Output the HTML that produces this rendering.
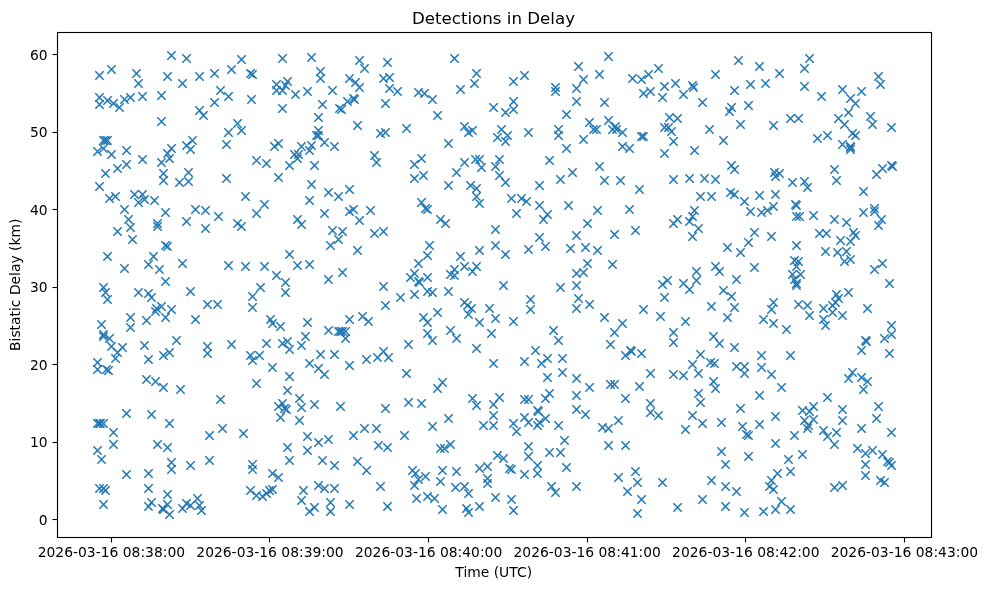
<!DOCTYPE html>
<html><head><meta charset="utf-8"><title>Detections in Delay</title>
<style>html,body{margin:0;padding:0;background:#fff;}svg{display:block;will-change:transform;}text{font-family:"DejaVu Sans","Liberation Sans",sans-serif;fill:#000;}</style></head>
<body>
<svg width="986" height="590" viewBox="0 0 986 590">
<rect width="986" height="590" fill="#fff"/>
<g stroke="#1f77b4" stroke-width="1.5" fill="none">
<path d="M167.33,51.33l8.34,8.34m-8.34,0l8.34-8.34"/>
<path d="M182.33,54.33l8.34,8.34m-8.34,0l8.34-8.34"/>
<path d="M237.33,55.33l8.34,8.34m-8.34,0l8.34-8.34"/>
<path d="M107.33,65.33l8.34,8.34m-8.34,0l8.34-8.34"/>
<path d="M95.33,71.33l8.34,8.34m-8.34,0l8.34-8.34"/>
<path d="M132.33,69.33l8.34,8.34m-8.34,0l8.34-8.34"/>
<path d="M163.33,72.33l8.34,8.34m-8.34,0l8.34-8.34"/>
<path d="M195.33,72.33l8.34,8.34m-8.34,0l8.34-8.34"/>
<path d="M210.33,69.33l8.34,8.34m-8.34,0l8.34-8.34"/>
<path d="M227.33,65.33l8.34,8.34m-8.34,0l8.34-8.34"/>
<path d="M134.33,79.33l8.34,8.34m-8.34,0l8.34-8.34"/>
<path d="M178.33,79.33l8.34,8.34m-8.34,0l8.34-8.34"/>
<path d="M216.33,86.33l8.34,8.34m-8.34,0l8.34-8.34"/>
<path d="M224.33,92.33l8.34,8.34m-8.34,0l8.34-8.34"/>
<path d="M247.33,95.33l8.34,8.34m-8.34,0l8.34-8.34"/>
<path d="M95.33,93.33l8.34,8.34m-8.34,0l8.34-8.34"/>
<path d="M95.33,100.33l8.34,8.34m-8.34,0l8.34-8.34"/>
<path d="M103.33,96.33l8.34,8.34m-8.34,0l8.34-8.34"/>
<path d="M109.33,99.33l8.34,8.34m-8.34,0l8.34-8.34"/>
<path d="M115.33,103.33l8.34,8.34m-8.34,0l8.34-8.34"/>
<path d="M120.33,95.33l8.34,8.34m-8.34,0l8.34-8.34"/>
<path d="M126.33,93.33l8.34,8.34m-8.34,0l8.34-8.34"/>
<path d="M138.33,92.33l8.34,8.34m-8.34,0l8.34-8.34"/>
<path d="M157.33,91.33l8.34,8.34m-8.34,0l8.34-8.34"/>
<path d="M210.33,98.33l8.34,8.34m-8.34,0l8.34-8.34"/>
<path d="M195.33,106.33l8.34,8.34m-8.34,0l8.34-8.34"/>
<path d="M199.33,111.33l8.34,8.34m-8.34,0l8.34-8.34"/>
<path d="M157.33,117.33l8.34,8.34m-8.34,0l8.34-8.34"/>
<path d="M233.33,119.33l8.34,8.34m-8.34,0l8.34-8.34"/>
<path d="M237.33,126.33l8.34,8.34m-8.34,0l8.34-8.34"/>
<path d="M224.33,128.33l8.34,8.34m-8.34,0l8.34-8.34"/>
<path d="M278.33,54.33l8.34,8.34m-8.34,0l8.34-8.34"/>
<path d="M307.33,53.33l8.34,8.34m-8.34,0l8.34-8.34"/>
<path d="M355.33,56.33l8.34,8.34m-8.34,0l8.34-8.34"/>
<path d="M383.33,58.33l8.34,8.34m-8.34,0l8.34-8.34"/>
<path d="M360.33,64.33l8.34,8.34m-8.34,0l8.34-8.34"/>
<path d="M316.33,67.33l8.34,8.34m-8.34,0l8.34-8.34"/>
<path d="M316.33,74.33l8.34,8.34m-8.34,0l8.34-8.34"/>
<path d="M345.33,74.33l8.34,8.34m-8.34,0l8.34-8.34"/>
<path d="M351.33,78.33l8.34,8.34m-8.34,0l8.34-8.34"/>
<path d="M355.33,83.33l8.34,8.34m-8.34,0l8.34-8.34"/>
<path d="M379.33,74.33l8.34,8.34m-8.34,0l8.34-8.34"/>
<path d="M385.33,73.33l8.34,8.34m-8.34,0l8.34-8.34"/>
<path d="M385.33,84.33l8.34,8.34m-8.34,0l8.34-8.34"/>
<path d="M393.33,87.33l8.34,8.34m-8.34,0l8.34-8.34"/>
<path d="M291.33,90.33l8.34,8.34m-8.34,0l8.34-8.34"/>
<path d="M303.33,87.33l8.34,8.34m-8.34,0l8.34-8.34"/>
<path d="M328.33,86.33l8.34,8.34m-8.34,0l8.34-8.34"/>
<path d="M278.33,104.33l8.34,8.34m-8.34,0l8.34-8.34"/>
<path d="M318.33,100.33l8.34,8.34m-8.34,0l8.34-8.34"/>
<path d="M314.33,113.33l8.34,8.34m-8.34,0l8.34-8.34"/>
<path d="M381.33,99.33l8.34,8.34m-8.34,0l8.34-8.34"/>
<path d="M353.33,121.33l8.34,8.34m-8.34,0l8.34-8.34"/>
<path d="M402.33,124.33l8.34,8.34m-8.34,0l8.34-8.34"/>
<path d="M376.33,129.33l8.34,8.34m-8.34,0l8.34-8.34"/>
<path d="M381.33,128.33l8.34,8.34m-8.34,0l8.34-8.34"/>
<path d="M314.33,126.33l8.34,8.34m-8.34,0l8.34-8.34"/>
<path d="M272.33,80.33l8.34,8.34m-8.34,0l8.34-8.34"/>
<path d="M272.33,86.33l8.34,8.34m-8.34,0l8.34-8.34"/>
<path d="M278.33,86.33l8.34,8.34m-8.34,0l8.34-8.34"/>
<path d="M283.33,77.33l8.34,8.34m-8.34,0l8.34-8.34"/>
<path d="M281.33,81.33l8.34,8.34m-8.34,0l8.34-8.34"/>
<path d="M335.33,104.33l8.34,8.34m-8.34,0l8.34-8.34"/>
<path d="M337.33,105.33l8.34,8.34m-8.34,0l8.34-8.34"/>
<path d="M343.33,97.33l8.34,8.34m-8.34,0l8.34-8.34"/>
<path d="M349.33,94.33l8.34,8.34m-8.34,0l8.34-8.34"/>
<path d="M350.33,95.33l8.34,8.34m-8.34,0l8.34-8.34"/>
<path d="M450.33,54.33l8.34,8.34m-8.34,0l8.34-8.34"/>
<path d="M472.33,69.33l8.34,8.34m-8.34,0l8.34-8.34"/>
<path d="M470.33,79.33l8.34,8.34m-8.34,0l8.34-8.34"/>
<path d="M456.33,85.33l8.34,8.34m-8.34,0l8.34-8.34"/>
<path d="M520.33,71.33l8.34,8.34m-8.34,0l8.34-8.34"/>
<path d="M509.33,77.33l8.34,8.34m-8.34,0l8.34-8.34"/>
<path d="M414.33,88.33l8.34,8.34m-8.34,0l8.34-8.34"/>
<path d="M420.33,89.33l8.34,8.34m-8.34,0l8.34-8.34"/>
<path d="M428.33,95.33l8.34,8.34m-8.34,0l8.34-8.34"/>
<path d="M433.33,111.33l8.34,8.34m-8.34,0l8.34-8.34"/>
<path d="M551.33,83.33l8.34,8.34m-8.34,0l8.34-8.34"/>
<path d="M551.33,87.33l8.34,8.34m-8.34,0l8.34-8.34"/>
<path d="M509.33,97.33l8.34,8.34m-8.34,0l8.34-8.34"/>
<path d="M509.33,105.33l8.34,8.34m-8.34,0l8.34-8.34"/>
<path d="M489.33,103.33l8.34,8.34m-8.34,0l8.34-8.34"/>
<path d="M501.33,108.33l8.34,8.34m-8.34,0l8.34-8.34"/>
<path d="M562.33,110.33l8.34,8.34m-8.34,0l8.34-8.34"/>
<path d="M460.33,122.33l8.34,8.34m-8.34,0l8.34-8.34"/>
<path d="M464.33,128.33l8.34,8.34m-8.34,0l8.34-8.34"/>
<path d="M468.33,126.33l8.34,8.34m-8.34,0l8.34-8.34"/>
<path d="M497.33,125.33l8.34,8.34m-8.34,0l8.34-8.34"/>
<path d="M493.33,133.33l8.34,8.34m-8.34,0l8.34-8.34"/>
<path d="M503.33,131.33l8.34,8.34m-8.34,0l8.34-8.34"/>
<path d="M524.33,128.33l8.34,8.34m-8.34,0l8.34-8.34"/>
<path d="M554.33,125.33l8.34,8.34m-8.34,0l8.34-8.34"/>
<path d="M554.33,131.33l8.34,8.34m-8.34,0l8.34-8.34"/>
<path d="M604.33,52.33l8.34,8.34m-8.34,0l8.34-8.34"/>
<path d="M574.33,62.33l8.34,8.34m-8.34,0l8.34-8.34"/>
<path d="M595.33,70.33l8.34,8.34m-8.34,0l8.34-8.34"/>
<path d="M579.33,75.33l8.34,8.34m-8.34,0l8.34-8.34"/>
<path d="M572.33,84.33l8.34,8.34m-8.34,0l8.34-8.34"/>
<path d="M572.33,97.33l8.34,8.34m-8.34,0l8.34-8.34"/>
<path d="M600.33,98.33l8.34,8.34m-8.34,0l8.34-8.34"/>
<path d="M654.33,64.33l8.34,8.34m-8.34,0l8.34-8.34"/>
<path d="M644.33,70.33l8.34,8.34m-8.34,0l8.34-8.34"/>
<path d="M637.33,75.33l8.34,8.34m-8.34,0l8.34-8.34"/>
<path d="M628.33,74.33l8.34,8.34m-8.34,0l8.34-8.34"/>
<path d="M660.33,82.33l8.34,8.34m-8.34,0l8.34-8.34"/>
<path d="M671.33,79.33l8.34,8.34m-8.34,0l8.34-8.34"/>
<path d="M646.33,87.33l8.34,8.34m-8.34,0l8.34-8.34"/>
<path d="M639.33,89.33l8.34,8.34m-8.34,0l8.34-8.34"/>
<path d="M658.33,93.33l8.34,8.34m-8.34,0l8.34-8.34"/>
<path d="M679.33,90.33l8.34,8.34m-8.34,0l8.34-8.34"/>
<path d="M688.33,81.33l8.34,8.34m-8.34,0l8.34-8.34"/>
<path d="M689.33,83.33l8.34,8.34m-8.34,0l8.34-8.34"/>
<path d="M711.33,70.33l8.34,8.34m-8.34,0l8.34-8.34"/>
<path d="M730.33,86.33l8.34,8.34m-8.34,0l8.34-8.34"/>
<path d="M698.33,98.33l8.34,8.34m-8.34,0l8.34-8.34"/>
<path d="M727.33,103.33l8.34,8.34m-8.34,0l8.34-8.34"/>
<path d="M725.33,107.33l8.34,8.34m-8.34,0l8.34-8.34"/>
<path d="M665.33,113.33l8.34,8.34m-8.34,0l8.34-8.34"/>
<path d="M673.33,114.33l8.34,8.34m-8.34,0l8.34-8.34"/>
<path d="M660.33,123.33l8.34,8.34m-8.34,0l8.34-8.34"/>
<path d="M664.33,123.33l8.34,8.34m-8.34,0l8.34-8.34"/>
<path d="M667.33,127.33l8.34,8.34m-8.34,0l8.34-8.34"/>
<path d="M705.33,125.33l8.34,8.34m-8.34,0l8.34-8.34"/>
<path d="M585.33,118.33l8.34,8.34m-8.34,0l8.34-8.34"/>
<path d="M604.33,116.33l8.34,8.34m-8.34,0l8.34-8.34"/>
<path d="M589.33,125.33l8.34,8.34m-8.34,0l8.34-8.34"/>
<path d="M592.33,125.33l8.34,8.34m-8.34,0l8.34-8.34"/>
<path d="M608.33,125.33l8.34,8.34m-8.34,0l8.34-8.34"/>
<path d="M611.33,122.33l8.34,8.34m-8.34,0l8.34-8.34"/>
<path d="M612.33,125.33l8.34,8.34m-8.34,0l8.34-8.34"/>
<path d="M618.33,128.33l8.34,8.34m-8.34,0l8.34-8.34"/>
<path d="M637.33,132.33l8.34,8.34m-8.34,0l8.34-8.34"/>
<path d="M639.33,132.33l8.34,8.34m-8.34,0l8.34-8.34"/>
<path d="M734.33,56.33l8.34,8.34m-8.34,0l8.34-8.34"/>
<path d="M755.33,62.33l8.34,8.34m-8.34,0l8.34-8.34"/>
<path d="M775.33,69.33l8.34,8.34m-8.34,0l8.34-8.34"/>
<path d="M805.33,54.33l8.34,8.34m-8.34,0l8.34-8.34"/>
<path d="M800.33,64.33l8.34,8.34m-8.34,0l8.34-8.34"/>
<path d="M800.33,82.33l8.34,8.34m-8.34,0l8.34-8.34"/>
<path d="M746.33,80.33l8.34,8.34m-8.34,0l8.34-8.34"/>
<path d="M761.33,79.33l8.34,8.34m-8.34,0l8.34-8.34"/>
<path d="M744.33,101.33l8.34,8.34m-8.34,0l8.34-8.34"/>
<path d="M736.33,120.33l8.34,8.34m-8.34,0l8.34-8.34"/>
<path d="M769.33,121.33l8.34,8.34m-8.34,0l8.34-8.34"/>
<path d="M786.33,114.33l8.34,8.34m-8.34,0l8.34-8.34"/>
<path d="M794.33,114.33l8.34,8.34m-8.34,0l8.34-8.34"/>
<path d="M817.33,92.33l8.34,8.34m-8.34,0l8.34-8.34"/>
<path d="M838.33,85.33l8.34,8.34m-8.34,0l8.34-8.34"/>
<path d="M857.33,87.33l8.34,8.34m-8.34,0l8.34-8.34"/>
<path d="M846.33,94.33l8.34,8.34m-8.34,0l8.34-8.34"/>
<path d="M851.33,99.33l8.34,8.34m-8.34,0l8.34-8.34"/>
<path d="M844.33,108.33l8.34,8.34m-8.34,0l8.34-8.34"/>
<path d="M834.33,114.33l8.34,8.34m-8.34,0l8.34-8.34"/>
<path d="M840.33,120.33l8.34,8.34m-8.34,0l8.34-8.34"/>
<path d="M874.33,72.33l8.34,8.34m-8.34,0l8.34-8.34"/>
<path d="M876.33,80.33l8.34,8.34m-8.34,0l8.34-8.34"/>
<path d="M866.33,112.33l8.34,8.34m-8.34,0l8.34-8.34"/>
<path d="M868.33,120.33l8.34,8.34m-8.34,0l8.34-8.34"/>
<path d="M887.33,123.33l8.34,8.34m-8.34,0l8.34-8.34"/>
<path d="M823.33,131.33l8.34,8.34m-8.34,0l8.34-8.34"/>
<path d="M813.33,134.33l8.34,8.34m-8.34,0l8.34-8.34"/>
<path d="M848.33,129.33l8.34,8.34m-8.34,0l8.34-8.34"/>
<path d="M851.33,131.33l8.34,8.34m-8.34,0l8.34-8.34"/>
<path d="M107.33,150.33l8.34,8.34m-8.34,0l8.34-8.34"/>
<path d="M122.33,146.33l8.34,8.34m-8.34,0l8.34-8.34"/>
<path d="M122.33,160.33l8.34,8.34m-8.34,0l8.34-8.34"/>
<path d="M113.33,164.33l8.34,8.34m-8.34,0l8.34-8.34"/>
<path d="M101.33,169.33l8.34,8.34m-8.34,0l8.34-8.34"/>
<path d="M95.33,182.33l8.34,8.34m-8.34,0l8.34-8.34"/>
<path d="M138.33,155.33l8.34,8.34m-8.34,0l8.34-8.34"/>
<path d="M167.33,144.33l8.34,8.34m-8.34,0l8.34-8.34"/>
<path d="M163.33,149.33l8.34,8.34m-8.34,0l8.34-8.34"/>
<path d="M165.33,154.33l8.34,8.34m-8.34,0l8.34-8.34"/>
<path d="M157.33,158.33l8.34,8.34m-8.34,0l8.34-8.34"/>
<path d="M188.33,136.33l8.34,8.34m-8.34,0l8.34-8.34"/>
<path d="M182.33,141.33l8.34,8.34m-8.34,0l8.34-8.34"/>
<path d="M186.33,145.33l8.34,8.34m-8.34,0l8.34-8.34"/>
<path d="M222.33,140.33l8.34,8.34m-8.34,0l8.34-8.34"/>
<path d="M159.33,169.33l8.34,8.34m-8.34,0l8.34-8.34"/>
<path d="M159.33,176.33l8.34,8.34m-8.34,0l8.34-8.34"/>
<path d="M184.33,168.33l8.34,8.34m-8.34,0l8.34-8.34"/>
<path d="M184.33,177.33l8.34,8.34m-8.34,0l8.34-8.34"/>
<path d="M175.33,178.33l8.34,8.34m-8.34,0l8.34-8.34"/>
<path d="M222.33,174.33l8.34,8.34m-8.34,0l8.34-8.34"/>
<path d="M241.33,192.33l8.34,8.34m-8.34,0l8.34-8.34"/>
<path d="M105.33,194.33l8.34,8.34m-8.34,0l8.34-8.34"/>
<path d="M111.33,192.33l8.34,8.34m-8.34,0l8.34-8.34"/>
<path d="M130.33,190.33l8.34,8.34m-8.34,0l8.34-8.34"/>
<path d="M138.33,190.33l8.34,8.34m-8.34,0l8.34-8.34"/>
<path d="M134.33,198.33l8.34,8.34m-8.34,0l8.34-8.34"/>
<path d="M140.33,195.33l8.34,8.34m-8.34,0l8.34-8.34"/>
<path d="M150.33,196.33l8.34,8.34m-8.34,0l8.34-8.34"/>
<path d="M120.33,205.33l8.34,8.34m-8.34,0l8.34-8.34"/>
<path d="M161.33,208.33l8.34,8.34m-8.34,0l8.34-8.34"/>
<path d="M191.33,205.33l8.34,8.34m-8.34,0l8.34-8.34"/>
<path d="M201.33,206.33l8.34,8.34m-8.34,0l8.34-8.34"/>
<path d="M214.33,212.33l8.34,8.34m-8.34,0l8.34-8.34"/>
<path d="M182.33,217.33l8.34,8.34m-8.34,0l8.34-8.34"/>
<path d="M201.33,224.33l8.34,8.34m-8.34,0l8.34-8.34"/>
<path d="M233.33,219.33l8.34,8.34m-8.34,0l8.34-8.34"/>
<path d="M237.33,222.33l8.34,8.34m-8.34,0l8.34-8.34"/>
<path d="M124.33,215.33l8.34,8.34m-8.34,0l8.34-8.34"/>
<path d="M126.33,223.33l8.34,8.34m-8.34,0l8.34-8.34"/>
<path d="M113.33,227.33l8.34,8.34m-8.34,0l8.34-8.34"/>
<path d="M153.33,219.33l8.34,8.34m-8.34,0l8.34-8.34"/>
<path d="M153.33,222.33l8.34,8.34m-8.34,0l8.34-8.34"/>
<path d="M93.33,147.33l8.34,8.34m-8.34,0l8.34-8.34"/>
<path d="M99.33,144.33l8.34,8.34m-8.34,0l8.34-8.34"/>
<path d="M99.33,136.33l8.34,8.34m-8.34,0l8.34-8.34"/>
<path d="M101.33,136.33l8.34,8.34m-8.34,0l8.34-8.34"/>
<path d="M103.33,136.33l8.34,8.34m-8.34,0l8.34-8.34"/>
<path d="M274.33,139.33l8.34,8.34m-8.34,0l8.34-8.34"/>
<path d="M270.33,142.33l8.34,8.34m-8.34,0l8.34-8.34"/>
<path d="M297.33,142.33l8.34,8.34m-8.34,0l8.34-8.34"/>
<path d="M307.33,141.33l8.34,8.34m-8.34,0l8.34-8.34"/>
<path d="M305.33,146.33l8.34,8.34m-8.34,0l8.34-8.34"/>
<path d="M320.33,138.33l8.34,8.34m-8.34,0l8.34-8.34"/>
<path d="M330.33,142.33l8.34,8.34m-8.34,0l8.34-8.34"/>
<path d="M290.33,150.33l8.34,8.34m-8.34,0l8.34-8.34"/>
<path d="M294.33,150.33l8.34,8.34m-8.34,0l8.34-8.34"/>
<path d="M293.33,154.33l8.34,8.34m-8.34,0l8.34-8.34"/>
<path d="M252.33,156.33l8.34,8.34m-8.34,0l8.34-8.34"/>
<path d="M262.33,159.33l8.34,8.34m-8.34,0l8.34-8.34"/>
<path d="M285.33,161.33l8.34,8.34m-8.34,0l8.34-8.34"/>
<path d="M310.33,161.33l8.34,8.34m-8.34,0l8.34-8.34"/>
<path d="M274.33,173.33l8.34,8.34m-8.34,0l8.34-8.34"/>
<path d="M370.33,151.33l8.34,8.34m-8.34,0l8.34-8.34"/>
<path d="M372.33,158.33l8.34,8.34m-8.34,0l8.34-8.34"/>
<path d="M307.33,180.33l8.34,8.34m-8.34,0l8.34-8.34"/>
<path d="M324.33,188.33l8.34,8.34m-8.34,0l8.34-8.34"/>
<path d="M334.33,192.33l8.34,8.34m-8.34,0l8.34-8.34"/>
<path d="M345.33,185.33l8.34,8.34m-8.34,0l8.34-8.34"/>
<path d="M305.33,196.33l8.34,8.34m-8.34,0l8.34-8.34"/>
<path d="M260.33,200.33l8.34,8.34m-8.34,0l8.34-8.34"/>
<path d="M252.33,209.33l8.34,8.34m-8.34,0l8.34-8.34"/>
<path d="M320.33,209.33l8.34,8.34m-8.34,0l8.34-8.34"/>
<path d="M345.33,207.33l8.34,8.34m-8.34,0l8.34-8.34"/>
<path d="M349.33,205.33l8.34,8.34m-8.34,0l8.34-8.34"/>
<path d="M366.33,206.33l8.34,8.34m-8.34,0l8.34-8.34"/>
<path d="M355.33,216.33l8.34,8.34m-8.34,0l8.34-8.34"/>
<path d="M293.33,215.33l8.34,8.34m-8.34,0l8.34-8.34"/>
<path d="M297.33,220.33l8.34,8.34m-8.34,0l8.34-8.34"/>
<path d="M328.33,226.33l8.34,8.34m-8.34,0l8.34-8.34"/>
<path d="M338.33,227.33l8.34,8.34m-8.34,0l8.34-8.34"/>
<path d="M370.33,229.33l8.34,8.34m-8.34,0l8.34-8.34"/>
<path d="M379.33,227.33l8.34,8.34m-8.34,0l8.34-8.34"/>
<path d="M312.33,131.33l8.34,8.34m-8.34,0l8.34-8.34"/>
<path d="M314.33,131.33l8.34,8.34m-8.34,0l8.34-8.34"/>
<path d="M444.33,139.33l8.34,8.34m-8.34,0l8.34-8.34"/>
<path d="M417.33,154.33l8.34,8.34m-8.34,0l8.34-8.34"/>
<path d="M410.33,160.33l8.34,8.34m-8.34,0l8.34-8.34"/>
<path d="M419.33,171.33l8.34,8.34m-8.34,0l8.34-8.34"/>
<path d="M410.33,174.33l8.34,8.34m-8.34,0l8.34-8.34"/>
<path d="M444.33,181.33l8.34,8.34m-8.34,0l8.34-8.34"/>
<path d="M460.33,158.33l8.34,8.34m-8.34,0l8.34-8.34"/>
<path d="M452.33,168.33l8.34,8.34m-8.34,0l8.34-8.34"/>
<path d="M471.33,155.33l8.34,8.34m-8.34,0l8.34-8.34"/>
<path d="M475.33,155.33l8.34,8.34m-8.34,0l8.34-8.34"/>
<path d="M477.33,163.33l8.34,8.34m-8.34,0l8.34-8.34"/>
<path d="M495.33,155.33l8.34,8.34m-8.34,0l8.34-8.34"/>
<path d="M491.33,162.33l8.34,8.34m-8.34,0l8.34-8.34"/>
<path d="M495.33,171.33l8.34,8.34m-8.34,0l8.34-8.34"/>
<path d="M501.33,178.33l8.34,8.34m-8.34,0l8.34-8.34"/>
<path d="M466.33,181.33l8.34,8.34m-8.34,0l8.34-8.34"/>
<path d="M472.33,184.33l8.34,8.34m-8.34,0l8.34-8.34"/>
<path d="M472.33,192.33l8.34,8.34m-8.34,0l8.34-8.34"/>
<path d="M475.33,199.33l8.34,8.34m-8.34,0l8.34-8.34"/>
<path d="M417.33,198.33l8.34,8.34m-8.34,0l8.34-8.34"/>
<path d="M421.33,204.33l8.34,8.34m-8.34,0l8.34-8.34"/>
<path d="M423.33,205.33l8.34,8.34m-8.34,0l8.34-8.34"/>
<path d="M436.33,215.33l8.34,8.34m-8.34,0l8.34-8.34"/>
<path d="M441.33,219.33l8.34,8.34m-8.34,0l8.34-8.34"/>
<path d="M491.33,225.33l8.34,8.34m-8.34,0l8.34-8.34"/>
<path d="M507.33,194.33l8.34,8.34m-8.34,0l8.34-8.34"/>
<path d="M517.33,194.33l8.34,8.34m-8.34,0l8.34-8.34"/>
<path d="M522.33,197.33l8.34,8.34m-8.34,0l8.34-8.34"/>
<path d="M512.33,209.33l8.34,8.34m-8.34,0l8.34-8.34"/>
<path d="M535.33,181.33l8.34,8.34m-8.34,0l8.34-8.34"/>
<path d="M535.33,201.33l8.34,8.34m-8.34,0l8.34-8.34"/>
<path d="M543.33,210.33l8.34,8.34m-8.34,0l8.34-8.34"/>
<path d="M539.33,215.33l8.34,8.34m-8.34,0l8.34-8.34"/>
<path d="M545.33,156.33l8.34,8.34m-8.34,0l8.34-8.34"/>
<path d="M562.33,144.33l8.34,8.34m-8.34,0l8.34-8.34"/>
<path d="M556.33,175.33l8.34,8.34m-8.34,0l8.34-8.34"/>
<path d="M568.33,168.33l8.34,8.34m-8.34,0l8.34-8.34"/>
<path d="M564.33,201.33l8.34,8.34m-8.34,0l8.34-8.34"/>
<path d="M501.33,137.33l8.34,8.34m-8.34,0l8.34-8.34"/>
<path d="M579.33,135.33l8.34,8.34m-8.34,0l8.34-8.34"/>
<path d="M618.33,142.33l8.34,8.34m-8.34,0l8.34-8.34"/>
<path d="M625.33,144.33l8.34,8.34m-8.34,0l8.34-8.34"/>
<path d="M669.33,137.33l8.34,8.34m-8.34,0l8.34-8.34"/>
<path d="M719.33,136.33l8.34,8.34m-8.34,0l8.34-8.34"/>
<path d="M660.33,149.33l8.34,8.34m-8.34,0l8.34-8.34"/>
<path d="M690.33,146.33l8.34,8.34m-8.34,0l8.34-8.34"/>
<path d="M595.33,162.33l8.34,8.34m-8.34,0l8.34-8.34"/>
<path d="M600.33,176.33l8.34,8.34m-8.34,0l8.34-8.34"/>
<path d="M616.33,176.33l8.34,8.34m-8.34,0l8.34-8.34"/>
<path d="M635.33,185.33l8.34,8.34m-8.34,0l8.34-8.34"/>
<path d="M669.33,175.33l8.34,8.34m-8.34,0l8.34-8.34"/>
<path d="M685.33,174.33l8.34,8.34m-8.34,0l8.34-8.34"/>
<path d="M700.33,174.33l8.34,8.34m-8.34,0l8.34-8.34"/>
<path d="M711.33,175.33l8.34,8.34m-8.34,0l8.34-8.34"/>
<path d="M727.33,161.33l8.34,8.34m-8.34,0l8.34-8.34"/>
<path d="M730.33,165.33l8.34,8.34m-8.34,0l8.34-8.34"/>
<path d="M696.33,192.33l8.34,8.34m-8.34,0l8.34-8.34"/>
<path d="M707.33,192.33l8.34,8.34m-8.34,0l8.34-8.34"/>
<path d="M726.33,188.33l8.34,8.34m-8.34,0l8.34-8.34"/>
<path d="M730.33,190.33l8.34,8.34m-8.34,0l8.34-8.34"/>
<path d="M593.33,206.33l8.34,8.34m-8.34,0l8.34-8.34"/>
<path d="M625.33,205.33l8.34,8.34m-8.34,0l8.34-8.34"/>
<path d="M583.33,219.33l8.34,8.34m-8.34,0l8.34-8.34"/>
<path d="M631.33,226.33l8.34,8.34m-8.34,0l8.34-8.34"/>
<path d="M690.33,206.33l8.34,8.34m-8.34,0l8.34-8.34"/>
<path d="M688.33,212.33l8.34,8.34m-8.34,0l8.34-8.34"/>
<path d="M685.33,217.33l8.34,8.34m-8.34,0l8.34-8.34"/>
<path d="M673.33,215.33l8.34,8.34m-8.34,0l8.34-8.34"/>
<path d="M669.33,219.33l8.34,8.34m-8.34,0l8.34-8.34"/>
<path d="M694.33,224.33l8.34,8.34m-8.34,0l8.34-8.34"/>
<path d="M838.33,140.33l8.34,8.34m-8.34,0l8.34-8.34"/>
<path d="M770.33,168.33l8.34,8.34m-8.34,0l8.34-8.34"/>
<path d="M775.33,169.33l8.34,8.34m-8.34,0l8.34-8.34"/>
<path d="M771.33,172.33l8.34,8.34m-8.34,0l8.34-8.34"/>
<path d="M788.33,178.33l8.34,8.34m-8.34,0l8.34-8.34"/>
<path d="M800.33,177.33l8.34,8.34m-8.34,0l8.34-8.34"/>
<path d="M803.33,183.33l8.34,8.34m-8.34,0l8.34-8.34"/>
<path d="M830.33,165.33l8.34,8.34m-8.34,0l8.34-8.34"/>
<path d="M832.33,176.33l8.34,8.34m-8.34,0l8.34-8.34"/>
<path d="M859.33,187.33l8.34,8.34m-8.34,0l8.34-8.34"/>
<path d="M872.33,170.33l8.34,8.34m-8.34,0l8.34-8.34"/>
<path d="M878.33,164.33l8.34,8.34m-8.34,0l8.34-8.34"/>
<path d="M887.33,161.33l8.34,8.34m-8.34,0l8.34-8.34"/>
<path d="M888.33,162.33l8.34,8.34m-8.34,0l8.34-8.34"/>
<path d="M740.33,197.33l8.34,8.34m-8.34,0l8.34-8.34"/>
<path d="M755.33,191.33l8.34,8.34m-8.34,0l8.34-8.34"/>
<path d="M771.33,190.33l8.34,8.34m-8.34,0l8.34-8.34"/>
<path d="M746.33,207.33l8.34,8.34m-8.34,0l8.34-8.34"/>
<path d="M757.33,208.33l8.34,8.34m-8.34,0l8.34-8.34"/>
<path d="M763.33,206.33l8.34,8.34m-8.34,0l8.34-8.34"/>
<path d="M769.33,202.33l8.34,8.34m-8.34,0l8.34-8.34"/>
<path d="M791.33,200.33l8.34,8.34m-8.34,0l8.34-8.34"/>
<path d="M792.33,201.33l8.34,8.34m-8.34,0l8.34-8.34"/>
<path d="M792.33,212.33l8.34,8.34m-8.34,0l8.34-8.34"/>
<path d="M795.33,212.33l8.34,8.34m-8.34,0l8.34-8.34"/>
<path d="M809.33,211.33l8.34,8.34m-8.34,0l8.34-8.34"/>
<path d="M830.33,215.33l8.34,8.34m-8.34,0l8.34-8.34"/>
<path d="M842.33,218.33l8.34,8.34m-8.34,0l8.34-8.34"/>
<path d="M859.33,208.33l8.34,8.34m-8.34,0l8.34-8.34"/>
<path d="M870.33,204.33l8.34,8.34m-8.34,0l8.34-8.34"/>
<path d="M870.33,207.33l8.34,8.34m-8.34,0l8.34-8.34"/>
<path d="M877.33,215.33l8.34,8.34m-8.34,0l8.34-8.34"/>
<path d="M874.33,221.33l8.34,8.34m-8.34,0l8.34-8.34"/>
<path d="M750.33,228.33l8.34,8.34m-8.34,0l8.34-8.34"/>
<path d="M849.33,228.33l8.34,8.34m-8.34,0l8.34-8.34"/>
<path d="M128.33,235.33l8.34,8.34m-8.34,0l8.34-8.34"/>
<path d="M161.33,241.33l8.34,8.34m-8.34,0l8.34-8.34"/>
<path d="M163.33,242.33l8.34,8.34m-8.34,0l8.34-8.34"/>
<path d="M103.33,252.33l8.34,8.34m-8.34,0l8.34-8.34"/>
<path d="M120.33,264.33l8.34,8.34m-8.34,0l8.34-8.34"/>
<path d="M149.33,252.33l8.34,8.34m-8.34,0l8.34-8.34"/>
<path d="M144.33,260.33l8.34,8.34m-8.34,0l8.34-8.34"/>
<path d="M155.33,265.33l8.34,8.34m-8.34,0l8.34-8.34"/>
<path d="M178.33,259.33l8.34,8.34m-8.34,0l8.34-8.34"/>
<path d="M224.33,261.33l8.34,8.34m-8.34,0l8.34-8.34"/>
<path d="M241.33,262.33l8.34,8.34m-8.34,0l8.34-8.34"/>
<path d="M161.33,277.33l8.34,8.34m-8.34,0l8.34-8.34"/>
<path d="M99.33,283.33l8.34,8.34m-8.34,0l8.34-8.34"/>
<path d="M101.33,288.33l8.34,8.34m-8.34,0l8.34-8.34"/>
<path d="M103.33,295.33l8.34,8.34m-8.34,0l8.34-8.34"/>
<path d="M134.33,288.33l8.34,8.34m-8.34,0l8.34-8.34"/>
<path d="M144.33,289.33l8.34,8.34m-8.34,0l8.34-8.34"/>
<path d="M147.33,293.33l8.34,8.34m-8.34,0l8.34-8.34"/>
<path d="M186.33,287.33l8.34,8.34m-8.34,0l8.34-8.34"/>
<path d="M203.33,300.33l8.34,8.34m-8.34,0l8.34-8.34"/>
<path d="M213.33,300.33l8.34,8.34m-8.34,0l8.34-8.34"/>
<path d="M157.33,302.33l8.34,8.34m-8.34,0l8.34-8.34"/>
<path d="M152.33,304.33l8.34,8.34m-8.34,0l8.34-8.34"/>
<path d="M151.33,307.33l8.34,8.34m-8.34,0l8.34-8.34"/>
<path d="M167.33,305.33l8.34,8.34m-8.34,0l8.34-8.34"/>
<path d="M161.33,313.33l8.34,8.34m-8.34,0l8.34-8.34"/>
<path d="M142.33,316.33l8.34,8.34m-8.34,0l8.34-8.34"/>
<path d="M191.33,315.33l8.34,8.34m-8.34,0l8.34-8.34"/>
<path d="M126.33,313.33l8.34,8.34m-8.34,0l8.34-8.34"/>
<path d="M97.33,320.33l8.34,8.34m-8.34,0l8.34-8.34"/>
<path d="M334.33,235.33l8.34,8.34m-8.34,0l8.34-8.34"/>
<path d="M326.33,241.33l8.34,8.34m-8.34,0l8.34-8.34"/>
<path d="M353.33,246.33l8.34,8.34m-8.34,0l8.34-8.34"/>
<path d="M285.33,250.33l8.34,8.34m-8.34,0l8.34-8.34"/>
<path d="M260.33,262.33l8.34,8.34m-8.34,0l8.34-8.34"/>
<path d="M293.33,261.33l8.34,8.34m-8.34,0l8.34-8.34"/>
<path d="M305.33,260.33l8.34,8.34m-8.34,0l8.34-8.34"/>
<path d="M272.33,271.33l8.34,8.34m-8.34,0l8.34-8.34"/>
<path d="M281.33,278.33l8.34,8.34m-8.34,0l8.34-8.34"/>
<path d="M281.33,288.33l8.34,8.34m-8.34,0l8.34-8.34"/>
<path d="M256.33,283.33l8.34,8.34m-8.34,0l8.34-8.34"/>
<path d="M248.33,292.33l8.34,8.34m-8.34,0l8.34-8.34"/>
<path d="M248.33,303.33l8.34,8.34m-8.34,0l8.34-8.34"/>
<path d="M324.33,275.33l8.34,8.34m-8.34,0l8.34-8.34"/>
<path d="M338.33,268.33l8.34,8.34m-8.34,0l8.34-8.34"/>
<path d="M379.33,282.33l8.34,8.34m-8.34,0l8.34-8.34"/>
<path d="M381.33,301.33l8.34,8.34m-8.34,0l8.34-8.34"/>
<path d="M396.33,293.33l8.34,8.34m-8.34,0l8.34-8.34"/>
<path d="M406.33,273.33l8.34,8.34m-8.34,0l8.34-8.34"/>
<path d="M266.33,315.33l8.34,8.34m-8.34,0l8.34-8.34"/>
<path d="M268.33,319.33l8.34,8.34m-8.34,0l8.34-8.34"/>
<path d="M276.33,322.33l8.34,8.34m-8.34,0l8.34-8.34"/>
<path d="M303.33,318.33l8.34,8.34m-8.34,0l8.34-8.34"/>
<path d="M345.33,315.33l8.34,8.34m-8.34,0l8.34-8.34"/>
<path d="M358.33,312.33l8.34,8.34m-8.34,0l8.34-8.34"/>
<path d="M364.33,317.33l8.34,8.34m-8.34,0l8.34-8.34"/>
<path d="M535.33,233.33l8.34,8.34m-8.34,0l8.34-8.34"/>
<path d="M425.33,241.33l8.34,8.34m-8.34,0l8.34-8.34"/>
<path d="M423.33,251.33l8.34,8.34m-8.34,0l8.34-8.34"/>
<path d="M414.33,259.33l8.34,8.34m-8.34,0l8.34-8.34"/>
<path d="M410.33,269.33l8.34,8.34m-8.34,0l8.34-8.34"/>
<path d="M414.33,277.33l8.34,8.34m-8.34,0l8.34-8.34"/>
<path d="M415.33,278.33l8.34,8.34m-8.34,0l8.34-8.34"/>
<path d="M423.33,273.33l8.34,8.34m-8.34,0l8.34-8.34"/>
<path d="M410.33,290.33l8.34,8.34m-8.34,0l8.34-8.34"/>
<path d="M423.33,287.33l8.34,8.34m-8.34,0l8.34-8.34"/>
<path d="M428.33,288.33l8.34,8.34m-8.34,0l8.34-8.34"/>
<path d="M444.33,287.33l8.34,8.34m-8.34,0l8.34-8.34"/>
<path d="M456.33,252.33l8.34,8.34m-8.34,0l8.34-8.34"/>
<path d="M475.33,246.33l8.34,8.34m-8.34,0l8.34-8.34"/>
<path d="M491.33,241.33l8.34,8.34m-8.34,0l8.34-8.34"/>
<path d="M501.33,250.33l8.34,8.34m-8.34,0l8.34-8.34"/>
<path d="M524.33,245.33l8.34,8.34m-8.34,0l8.34-8.34"/>
<path d="M541.33,242.33l8.34,8.34m-8.34,0l8.34-8.34"/>
<path d="M566.33,244.33l8.34,8.34m-8.34,0l8.34-8.34"/>
<path d="M450.33,265.33l8.34,8.34m-8.34,0l8.34-8.34"/>
<path d="M446.33,270.33l8.34,8.34m-8.34,0l8.34-8.34"/>
<path d="M450.33,271.33l8.34,8.34m-8.34,0l8.34-8.34"/>
<path d="M460.33,262.33l8.34,8.34m-8.34,0l8.34-8.34"/>
<path d="M472.33,262.33l8.34,8.34m-8.34,0l8.34-8.34"/>
<path d="M468.33,267.33l8.34,8.34m-8.34,0l8.34-8.34"/>
<path d="M499.33,281.33l8.34,8.34m-8.34,0l8.34-8.34"/>
<path d="M556.33,283.33l8.34,8.34m-8.34,0l8.34-8.34"/>
<path d="M526.33,295.33l8.34,8.34m-8.34,0l8.34-8.34"/>
<path d="M526.33,305.33l8.34,8.34m-8.34,0l8.34-8.34"/>
<path d="M460.33,298.33l8.34,8.34m-8.34,0l8.34-8.34"/>
<path d="M463.33,301.33l8.34,8.34m-8.34,0l8.34-8.34"/>
<path d="M467.33,304.33l8.34,8.34m-8.34,0l8.34-8.34"/>
<path d="M464.33,310.33l8.34,8.34m-8.34,0l8.34-8.34"/>
<path d="M485.33,304.33l8.34,8.34m-8.34,0l8.34-8.34"/>
<path d="M491.33,314.33l8.34,8.34m-8.34,0l8.34-8.34"/>
<path d="M475.33,318.33l8.34,8.34m-8.34,0l8.34-8.34"/>
<path d="M509.33,317.33l8.34,8.34m-8.34,0l8.34-8.34"/>
<path d="M433.33,308.33l8.34,8.34m-8.34,0l8.34-8.34"/>
<path d="M419.33,313.33l8.34,8.34m-8.34,0l8.34-8.34"/>
<path d="M423.33,318.33l8.34,8.34m-8.34,0l8.34-8.34"/>
<path d="M572.33,231.33l8.34,8.34m-8.34,0l8.34-8.34"/>
<path d="M610.33,230.33l8.34,8.34m-8.34,0l8.34-8.34"/>
<path d="M688.33,232.33l8.34,8.34m-8.34,0l8.34-8.34"/>
<path d="M581.33,243.33l8.34,8.34m-8.34,0l8.34-8.34"/>
<path d="M593.33,246.33l8.34,8.34m-8.34,0l8.34-8.34"/>
<path d="M583.33,259.33l8.34,8.34m-8.34,0l8.34-8.34"/>
<path d="M608.33,260.33l8.34,8.34m-8.34,0l8.34-8.34"/>
<path d="M572.33,269.33l8.34,8.34m-8.34,0l8.34-8.34"/>
<path d="M579.33,268.33l8.34,8.34m-8.34,0l8.34-8.34"/>
<path d="M572.33,281.33l8.34,8.34m-8.34,0l8.34-8.34"/>
<path d="M574.33,294.33l8.34,8.34m-8.34,0l8.34-8.34"/>
<path d="M572.33,304.33l8.34,8.34m-8.34,0l8.34-8.34"/>
<path d="M585.33,300.33l8.34,8.34m-8.34,0l8.34-8.34"/>
<path d="M600.33,313.33l8.34,8.34m-8.34,0l8.34-8.34"/>
<path d="M618.33,319.33l8.34,8.34m-8.34,0l8.34-8.34"/>
<path d="M639.33,305.33l8.34,8.34m-8.34,0l8.34-8.34"/>
<path d="M656.33,312.33l8.34,8.34m-8.34,0l8.34-8.34"/>
<path d="M660.33,293.33l8.34,8.34m-8.34,0l8.34-8.34"/>
<path d="M658.33,280.33l8.34,8.34m-8.34,0l8.34-8.34"/>
<path d="M663.33,276.33l8.34,8.34m-8.34,0l8.34-8.34"/>
<path d="M679.33,279.33l8.34,8.34m-8.34,0l8.34-8.34"/>
<path d="M685.33,285.33l8.34,8.34m-8.34,0l8.34-8.34"/>
<path d="M692.33,267.33l8.34,8.34m-8.34,0l8.34-8.34"/>
<path d="M692.33,276.33l8.34,8.34m-8.34,0l8.34-8.34"/>
<path d="M711.33,262.33l8.34,8.34m-8.34,0l8.34-8.34"/>
<path d="M715.33,267.33l8.34,8.34m-8.34,0l8.34-8.34"/>
<path d="M723.33,243.33l8.34,8.34m-8.34,0l8.34-8.34"/>
<path d="M732.33,275.33l8.34,8.34m-8.34,0l8.34-8.34"/>
<path d="M719.33,286.33l8.34,8.34m-8.34,0l8.34-8.34"/>
<path d="M727.33,292.33l8.34,8.34m-8.34,0l8.34-8.34"/>
<path d="M730.33,303.33l8.34,8.34m-8.34,0l8.34-8.34"/>
<path d="M707.33,302.33l8.34,8.34m-8.34,0l8.34-8.34"/>
<path d="M723.33,313.33l8.34,8.34m-8.34,0l8.34-8.34"/>
<path d="M681.33,317.33l8.34,8.34m-8.34,0l8.34-8.34"/>
<path d="M767.33,232.33l8.34,8.34m-8.34,0l8.34-8.34"/>
<path d="M815.33,229.33l8.34,8.34m-8.34,0l8.34-8.34"/>
<path d="M822.33,229.33l8.34,8.34m-8.34,0l8.34-8.34"/>
<path d="M851.33,231.33l8.34,8.34m-8.34,0l8.34-8.34"/>
<path d="M744.33,238.33l8.34,8.34m-8.34,0l8.34-8.34"/>
<path d="M736.33,248.33l8.34,8.34m-8.34,0l8.34-8.34"/>
<path d="M750.33,263.33l8.34,8.34m-8.34,0l8.34-8.34"/>
<path d="M792.33,241.33l8.34,8.34m-8.34,0l8.34-8.34"/>
<path d="M821.33,247.33l8.34,8.34m-8.34,0l8.34-8.34"/>
<path d="M836.33,236.33l8.34,8.34m-8.34,0l8.34-8.34"/>
<path d="M846.33,237.33l8.34,8.34m-8.34,0l8.34-8.34"/>
<path d="M833.33,248.33l8.34,8.34m-8.34,0l8.34-8.34"/>
<path d="M842.33,247.33l8.34,8.34m-8.34,0l8.34-8.34"/>
<path d="M846.33,255.33l8.34,8.34m-8.34,0l8.34-8.34"/>
<path d="M840.33,257.33l8.34,8.34m-8.34,0l8.34-8.34"/>
<path d="M878.33,259.33l8.34,8.34m-8.34,0l8.34-8.34"/>
<path d="M870.33,265.33l8.34,8.34m-8.34,0l8.34-8.34"/>
<path d="M885.33,279.33l8.34,8.34m-8.34,0l8.34-8.34"/>
<path d="M769.33,298.33l8.34,8.34m-8.34,0l8.34-8.34"/>
<path d="M767.33,305.33l8.34,8.34m-8.34,0l8.34-8.34"/>
<path d="M759.33,315.33l8.34,8.34m-8.34,0l8.34-8.34"/>
<path d="M769.33,319.33l8.34,8.34m-8.34,0l8.34-8.34"/>
<path d="M794.33,300.33l8.34,8.34m-8.34,0l8.34-8.34"/>
<path d="M803.33,301.33l8.34,8.34m-8.34,0l8.34-8.34"/>
<path d="M805.33,311.33l8.34,8.34m-8.34,0l8.34-8.34"/>
<path d="M819.33,304.33l8.34,8.34m-8.34,0l8.34-8.34"/>
<path d="M819.33,315.33l8.34,8.34m-8.34,0l8.34-8.34"/>
<path d="M821.33,321.33l8.34,8.34m-8.34,0l8.34-8.34"/>
<path d="M838.33,311.33l8.34,8.34m-8.34,0l8.34-8.34"/>
<path d="M844.33,288.33l8.34,8.34m-8.34,0l8.34-8.34"/>
<path d="M832.33,290.33l8.34,8.34m-8.34,0l8.34-8.34"/>
<path d="M834.33,294.33l8.34,8.34m-8.34,0l8.34-8.34"/>
<path d="M831.33,298.33l8.34,8.34m-8.34,0l8.34-8.34"/>
<path d="M863.33,304.33l8.34,8.34m-8.34,0l8.34-8.34"/>
<path d="M887.33,321.33l8.34,8.34m-8.34,0l8.34-8.34"/>
<path d="M790.33,256.33l8.34,8.34m-8.34,0l8.34-8.34"/>
<path d="M794.33,257.33l8.34,8.34m-8.34,0l8.34-8.34"/>
<path d="M792.33,262.33l8.34,8.34m-8.34,0l8.34-8.34"/>
<path d="M788.33,270.33l8.34,8.34m-8.34,0l8.34-8.34"/>
<path d="M796.33,270.33l8.34,8.34m-8.34,0l8.34-8.34"/>
<path d="M790.33,275.33l8.34,8.34m-8.34,0l8.34-8.34"/>
<path d="M792.33,279.33l8.34,8.34m-8.34,0l8.34-8.34"/>
<path d="M792.33,281.33l8.34,8.34m-8.34,0l8.34-8.34"/>
<path d="M828.33,301.33l8.34,8.34m-8.34,0l8.34-8.34"/>
<path d="M828.33,308.33l8.34,8.34m-8.34,0l8.34-8.34"/>
<path d="M126.33,323.33l8.34,8.34m-8.34,0l8.34-8.34"/>
<path d="M107.33,342.33l8.34,8.34m-8.34,0l8.34-8.34"/>
<path d="M118.33,343.33l8.34,8.34m-8.34,0l8.34-8.34"/>
<path d="M113.33,348.33l8.34,8.34m-8.34,0l8.34-8.34"/>
<path d="M111.33,354.33l8.34,8.34m-8.34,0l8.34-8.34"/>
<path d="M93.33,358.33l8.34,8.34m-8.34,0l8.34-8.34"/>
<path d="M93.33,365.33l8.34,8.34m-8.34,0l8.34-8.34"/>
<path d="M102.33,365.33l8.34,8.34m-8.34,0l8.34-8.34"/>
<path d="M104.33,366.33l8.34,8.34m-8.34,0l8.34-8.34"/>
<path d="M140.33,341.33l8.34,8.34m-8.34,0l8.34-8.34"/>
<path d="M144.33,355.33l8.34,8.34m-8.34,0l8.34-8.34"/>
<path d="M172.33,336.33l8.34,8.34m-8.34,0l8.34-8.34"/>
<path d="M165.33,348.33l8.34,8.34m-8.34,0l8.34-8.34"/>
<path d="M159.33,351.33l8.34,8.34m-8.34,0l8.34-8.34"/>
<path d="M203.33,342.33l8.34,8.34m-8.34,0l8.34-8.34"/>
<path d="M203.33,349.33l8.34,8.34m-8.34,0l8.34-8.34"/>
<path d="M227.33,340.33l8.34,8.34m-8.34,0l8.34-8.34"/>
<path d="M246.33,351.33l8.34,8.34m-8.34,0l8.34-8.34"/>
<path d="M142.33,375.33l8.34,8.34m-8.34,0l8.34-8.34"/>
<path d="M151.33,377.33l8.34,8.34m-8.34,0l8.34-8.34"/>
<path d="M159.33,383.33l8.34,8.34m-8.34,0l8.34-8.34"/>
<path d="M176.33,385.33l8.34,8.34m-8.34,0l8.34-8.34"/>
<path d="M216.33,395.33l8.34,8.34m-8.34,0l8.34-8.34"/>
<path d="M122.33,409.33l8.34,8.34m-8.34,0l8.34-8.34"/>
<path d="M147.33,410.33l8.34,8.34m-8.34,0l8.34-8.34"/>
<path d="M324.33,326.33l8.34,8.34m-8.34,0l8.34-8.34"/>
<path d="M341.33,334.33l8.34,8.34m-8.34,0l8.34-8.34"/>
<path d="M301.33,332.33l8.34,8.34m-8.34,0l8.34-8.34"/>
<path d="M262.33,339.33l8.34,8.34m-8.34,0l8.34-8.34"/>
<path d="M278.33,339.33l8.34,8.34m-8.34,0l8.34-8.34"/>
<path d="M283.33,337.33l8.34,8.34m-8.34,0l8.34-8.34"/>
<path d="M285.33,345.33l8.34,8.34m-8.34,0l8.34-8.34"/>
<path d="M297.33,341.33l8.34,8.34m-8.34,0l8.34-8.34"/>
<path d="M248.33,356.33l8.34,8.34m-8.34,0l8.34-8.34"/>
<path d="M255.33,351.33l8.34,8.34m-8.34,0l8.34-8.34"/>
<path d="M268.33,363.33l8.34,8.34m-8.34,0l8.34-8.34"/>
<path d="M252.33,379.33l8.34,8.34m-8.34,0l8.34-8.34"/>
<path d="M285.33,372.33l8.34,8.34m-8.34,0l8.34-8.34"/>
<path d="M316.33,350.33l8.34,8.34m-8.34,0l8.34-8.34"/>
<path d="M330.33,350.33l8.34,8.34m-8.34,0l8.34-8.34"/>
<path d="M305.33,359.33l8.34,8.34m-8.34,0l8.34-8.34"/>
<path d="M314.33,364.33l8.34,8.34m-8.34,0l8.34-8.34"/>
<path d="M320.33,370.33l8.34,8.34m-8.34,0l8.34-8.34"/>
<path d="M345.33,361.33l8.34,8.34m-8.34,0l8.34-8.34"/>
<path d="M362.33,355.33l8.34,8.34m-8.34,0l8.34-8.34"/>
<path d="M373.33,353.33l8.34,8.34m-8.34,0l8.34-8.34"/>
<path d="M379.33,347.33l8.34,8.34m-8.34,0l8.34-8.34"/>
<path d="M384.33,353.33l8.34,8.34m-8.34,0l8.34-8.34"/>
<path d="M404.33,340.33l8.34,8.34m-8.34,0l8.34-8.34"/>
<path d="M402.33,369.33l8.34,8.34m-8.34,0l8.34-8.34"/>
<path d="M404.33,398.33l8.34,8.34m-8.34,0l8.34-8.34"/>
<path d="M381.33,404.33l8.34,8.34m-8.34,0l8.34-8.34"/>
<path d="M336.33,402.33l8.34,8.34m-8.34,0l8.34-8.34"/>
<path d="M334.33,327.33l8.34,8.34m-8.34,0l8.34-8.34"/>
<path d="M336.33,327.33l8.34,8.34m-8.34,0l8.34-8.34"/>
<path d="M338.33,327.33l8.34,8.34m-8.34,0l8.34-8.34"/>
<path d="M341.33,327.33l8.34,8.34m-8.34,0l8.34-8.34"/>
<path d="M283.33,386.33l8.34,8.34m-8.34,0l8.34-8.34"/>
<path d="M295.33,394.33l8.34,8.34m-8.34,0l8.34-8.34"/>
<path d="M297.33,403.33l8.34,8.34m-8.34,0l8.34-8.34"/>
<path d="M310.33,400.33l8.34,8.34m-8.34,0l8.34-8.34"/>
<path d="M278.33,399.33l8.34,8.34m-8.34,0l8.34-8.34"/>
<path d="M274.33,402.33l8.34,8.34m-8.34,0l8.34-8.34"/>
<path d="M280.33,404.33l8.34,8.34m-8.34,0l8.34-8.34"/>
<path d="M282.33,405.33l8.34,8.34m-8.34,0l8.34-8.34"/>
<path d="M276.33,413.33l8.34,8.34m-8.34,0l8.34-8.34"/>
<path d="M295.33,416.33l8.34,8.34m-8.34,0l8.34-8.34"/>
<path d="M446.33,326.33l8.34,8.34m-8.34,0l8.34-8.34"/>
<path d="M549.33,326.33l8.34,8.34m-8.34,0l8.34-8.34"/>
<path d="M423.33,329.33l8.34,8.34m-8.34,0l8.34-8.34"/>
<path d="M428.33,336.33l8.34,8.34m-8.34,0l8.34-8.34"/>
<path d="M452.33,334.33l8.34,8.34m-8.34,0l8.34-8.34"/>
<path d="M487.33,329.33l8.34,8.34m-8.34,0l8.34-8.34"/>
<path d="M472.33,344.33l8.34,8.34m-8.34,0l8.34-8.34"/>
<path d="M554.33,336.33l8.34,8.34m-8.34,0l8.34-8.34"/>
<path d="M531.33,346.33l8.34,8.34m-8.34,0l8.34-8.34"/>
<path d="M543.33,354.33l8.34,8.34m-8.34,0l8.34-8.34"/>
<path d="M537.33,359.33l8.34,8.34m-8.34,0l8.34-8.34"/>
<path d="M558.33,354.33l8.34,8.34m-8.34,0l8.34-8.34"/>
<path d="M558.33,368.33l8.34,8.34m-8.34,0l8.34-8.34"/>
<path d="M543.33,373.33l8.34,8.34m-8.34,0l8.34-8.34"/>
<path d="M520.33,357.33l8.34,8.34m-8.34,0l8.34-8.34"/>
<path d="M489.33,359.33l8.34,8.34m-8.34,0l8.34-8.34"/>
<path d="M438.33,378.33l8.34,8.34m-8.34,0l8.34-8.34"/>
<path d="M433.33,384.33l8.34,8.34m-8.34,0l8.34-8.34"/>
<path d="M417.33,399.33l8.34,8.34m-8.34,0l8.34-8.34"/>
<path d="M468.33,394.33l8.34,8.34m-8.34,0l8.34-8.34"/>
<path d="M472.33,401.33l8.34,8.34m-8.34,0l8.34-8.34"/>
<path d="M495.33,393.33l8.34,8.34m-8.34,0l8.34-8.34"/>
<path d="M489.33,400.33l8.34,8.34m-8.34,0l8.34-8.34"/>
<path d="M489.33,411.33l8.34,8.34m-8.34,0l8.34-8.34"/>
<path d="M444.33,414.33l8.34,8.34m-8.34,0l8.34-8.34"/>
<path d="M520.33,395.33l8.34,8.34m-8.34,0l8.34-8.34"/>
<path d="M524.33,395.33l8.34,8.34m-8.34,0l8.34-8.34"/>
<path d="M545.33,389.33l8.34,8.34m-8.34,0l8.34-8.34"/>
<path d="M541.33,394.33l8.34,8.34m-8.34,0l8.34-8.34"/>
<path d="M533.33,406.33l8.34,8.34m-8.34,0l8.34-8.34"/>
<path d="M534.33,407.33l8.34,8.34m-8.34,0l8.34-8.34"/>
<path d="M520.33,413.33l8.34,8.34m-8.34,0l8.34-8.34"/>
<path d="M541.33,414.33l8.34,8.34m-8.34,0l8.34-8.34"/>
<path d="M610.33,328.33l8.34,8.34m-8.34,0l8.34-8.34"/>
<path d="M669.33,328.33l8.34,8.34m-8.34,0l8.34-8.34"/>
<path d="M669.33,338.33l8.34,8.34m-8.34,0l8.34-8.34"/>
<path d="M606.33,340.33l8.34,8.34m-8.34,0l8.34-8.34"/>
<path d="M621.33,351.33l8.34,8.34m-8.34,0l8.34-8.34"/>
<path d="M626.33,346.33l8.34,8.34m-8.34,0l8.34-8.34"/>
<path d="M627.33,347.33l8.34,8.34m-8.34,0l8.34-8.34"/>
<path d="M637.33,349.33l8.34,8.34m-8.34,0l8.34-8.34"/>
<path d="M709.33,332.33l8.34,8.34m-8.34,0l8.34-8.34"/>
<path d="M715.33,339.33l8.34,8.34m-8.34,0l8.34-8.34"/>
<path d="M730.33,343.33l8.34,8.34m-8.34,0l8.34-8.34"/>
<path d="M696.33,350.33l8.34,8.34m-8.34,0l8.34-8.34"/>
<path d="M688.33,360.33l8.34,8.34m-8.34,0l8.34-8.34"/>
<path d="M694.33,369.33l8.34,8.34m-8.34,0l8.34-8.34"/>
<path d="M706.33,358.33l8.34,8.34m-8.34,0l8.34-8.34"/>
<path d="M710.33,359.33l8.34,8.34m-8.34,0l8.34-8.34"/>
<path d="M732.33,362.33l8.34,8.34m-8.34,0l8.34-8.34"/>
<path d="M669.33,370.33l8.34,8.34m-8.34,0l8.34-8.34"/>
<path d="M679.33,371.33l8.34,8.34m-8.34,0l8.34-8.34"/>
<path d="M646.33,369.33l8.34,8.34m-8.34,0l8.34-8.34"/>
<path d="M572.33,374.33l8.34,8.34m-8.34,0l8.34-8.34"/>
<path d="M572.33,391.33l8.34,8.34m-8.34,0l8.34-8.34"/>
<path d="M572.33,405.33l8.34,8.34m-8.34,0l8.34-8.34"/>
<path d="M585.33,383.33l8.34,8.34m-8.34,0l8.34-8.34"/>
<path d="M581.33,410.33l8.34,8.34m-8.34,0l8.34-8.34"/>
<path d="M606.33,380.33l8.34,8.34m-8.34,0l8.34-8.34"/>
<path d="M610.33,380.33l8.34,8.34m-8.34,0l8.34-8.34"/>
<path d="M635.33,382.33l8.34,8.34m-8.34,0l8.34-8.34"/>
<path d="M621.33,394.33l8.34,8.34m-8.34,0l8.34-8.34"/>
<path d="M646.33,399.33l8.34,8.34m-8.34,0l8.34-8.34"/>
<path d="M646.33,408.33l8.34,8.34m-8.34,0l8.34-8.34"/>
<path d="M654.33,411.33l8.34,8.34m-8.34,0l8.34-8.34"/>
<path d="M614.33,416.33l8.34,8.34m-8.34,0l8.34-8.34"/>
<path d="M694.33,389.33l8.34,8.34m-8.34,0l8.34-8.34"/>
<path d="M696.33,398.33l8.34,8.34m-8.34,0l8.34-8.34"/>
<path d="M688.33,411.33l8.34,8.34m-8.34,0l8.34-8.34"/>
<path d="M709.33,377.33l8.34,8.34m-8.34,0l8.34-8.34"/>
<path d="M711.33,384.33l8.34,8.34m-8.34,0l8.34-8.34"/>
<path d="M782.33,325.33l8.34,8.34m-8.34,0l8.34-8.34"/>
<path d="M887.33,330.33l8.34,8.34m-8.34,0l8.34-8.34"/>
<path d="M880.33,334.33l8.34,8.34m-8.34,0l8.34-8.34"/>
<path d="M861.33,336.33l8.34,8.34m-8.34,0l8.34-8.34"/>
<path d="M862.33,337.33l8.34,8.34m-8.34,0l8.34-8.34"/>
<path d="M857.33,346.33l8.34,8.34m-8.34,0l8.34-8.34"/>
<path d="M885.33,349.33l8.34,8.34m-8.34,0l8.34-8.34"/>
<path d="M757.33,351.33l8.34,8.34m-8.34,0l8.34-8.34"/>
<path d="M786.33,351.33l8.34,8.34m-8.34,0l8.34-8.34"/>
<path d="M757.33,363.33l8.34,8.34m-8.34,0l8.34-8.34"/>
<path d="M767.33,370.33l8.34,8.34m-8.34,0l8.34-8.34"/>
<path d="M740.33,362.33l8.34,8.34m-8.34,0l8.34-8.34"/>
<path d="M740.33,369.33l8.34,8.34m-8.34,0l8.34-8.34"/>
<path d="M777.33,383.33l8.34,8.34m-8.34,0l8.34-8.34"/>
<path d="M755.33,391.33l8.34,8.34m-8.34,0l8.34-8.34"/>
<path d="M736.33,404.33l8.34,8.34m-8.34,0l8.34-8.34"/>
<path d="M771.33,412.33l8.34,8.34m-8.34,0l8.34-8.34"/>
<path d="M848.33,368.33l8.34,8.34m-8.34,0l8.34-8.34"/>
<path d="M844.33,374.33l8.34,8.34m-8.34,0l8.34-8.34"/>
<path d="M857.33,373.33l8.34,8.34m-8.34,0l8.34-8.34"/>
<path d="M863.33,377.33l8.34,8.34m-8.34,0l8.34-8.34"/>
<path d="M859.33,385.33l8.34,8.34m-8.34,0l8.34-8.34"/>
<path d="M823.33,393.33l8.34,8.34m-8.34,0l8.34-8.34"/>
<path d="M838.33,405.33l8.34,8.34m-8.34,0l8.34-8.34"/>
<path d="M838.33,416.33l8.34,8.34m-8.34,0l8.34-8.34"/>
<path d="M874.33,402.33l8.34,8.34m-8.34,0l8.34-8.34"/>
<path d="M872.33,414.33l8.34,8.34m-8.34,0l8.34-8.34"/>
<path d="M809.33,402.33l8.34,8.34m-8.34,0l8.34-8.34"/>
<path d="M798.33,406.33l8.34,8.34m-8.34,0l8.34-8.34"/>
<path d="M805.33,407.33l8.34,8.34m-8.34,0l8.34-8.34"/>
<path d="M800.33,416.33l8.34,8.34m-8.34,0l8.34-8.34"/>
<path d="M809.33,415.33l8.34,8.34m-8.34,0l8.34-8.34"/>
<path d="M165.33,419.33l8.34,8.34m-8.34,0l8.34-8.34"/>
<path d="M109.33,428.33l8.34,8.34m-8.34,0l8.34-8.34"/>
<path d="M109.33,440.33l8.34,8.34m-8.34,0l8.34-8.34"/>
<path d="M93.33,446.33l8.34,8.34m-8.34,0l8.34-8.34"/>
<path d="M97.33,455.33l8.34,8.34m-8.34,0l8.34-8.34"/>
<path d="M153.33,440.33l8.34,8.34m-8.34,0l8.34-8.34"/>
<path d="M163.33,443.33l8.34,8.34m-8.34,0l8.34-8.34"/>
<path d="M205.33,431.33l8.34,8.34m-8.34,0l8.34-8.34"/>
<path d="M218.33,424.33l8.34,8.34m-8.34,0l8.34-8.34"/>
<path d="M239.33,429.33l8.34,8.34m-8.34,0l8.34-8.34"/>
<path d="M205.33,456.33l8.34,8.34m-8.34,0l8.34-8.34"/>
<path d="M186.33,461.33l8.34,8.34m-8.34,0l8.34-8.34"/>
<path d="M167.33,458.33l8.34,8.34m-8.34,0l8.34-8.34"/>
<path d="M167.33,465.33l8.34,8.34m-8.34,0l8.34-8.34"/>
<path d="M122.33,470.33l8.34,8.34m-8.34,0l8.34-8.34"/>
<path d="M144.33,469.33l8.34,8.34m-8.34,0l8.34-8.34"/>
<path d="M144.33,484.33l8.34,8.34m-8.34,0l8.34-8.34"/>
<path d="M99.33,500.33l8.34,8.34m-8.34,0l8.34-8.34"/>
<path d="M147.33,498.33l8.34,8.34m-8.34,0l8.34-8.34"/>
<path d="M144.33,502.33l8.34,8.34m-8.34,0l8.34-8.34"/>
<path d="M163.33,490.33l8.34,8.34m-8.34,0l8.34-8.34"/>
<path d="M163.33,500.33l8.34,8.34m-8.34,0l8.34-8.34"/>
<path d="M158.33,504.33l8.34,8.34m-8.34,0l8.34-8.34"/>
<path d="M159.33,505.33l8.34,8.34m-8.34,0l8.34-8.34"/>
<path d="M165.33,510.33l8.34,8.34m-8.34,0l8.34-8.34"/>
<path d="M178.33,504.33l8.34,8.34m-8.34,0l8.34-8.34"/>
<path d="M182.33,499.33l8.34,8.34m-8.34,0l8.34-8.34"/>
<path d="M186.33,501.33l8.34,8.34m-8.34,0l8.34-8.34"/>
<path d="M193.33,494.33l8.34,8.34m-8.34,0l8.34-8.34"/>
<path d="M195.33,501.33l8.34,8.34m-8.34,0l8.34-8.34"/>
<path d="M197.33,506.33l8.34,8.34m-8.34,0l8.34-8.34"/>
<path d="M93.33,419.33l8.34,8.34m-8.34,0l8.34-8.34"/>
<path d="M95.33,419.33l8.34,8.34m-8.34,0l8.34-8.34"/>
<path d="M96.33,419.33l8.34,8.34m-8.34,0l8.34-8.34"/>
<path d="M99.33,419.33l8.34,8.34m-8.34,0l8.34-8.34"/>
<path d="M95.33,484.33l8.34,8.34m-8.34,0l8.34-8.34"/>
<path d="M99.33,484.33l8.34,8.34m-8.34,0l8.34-8.34"/>
<path d="M101.33,486.33l8.34,8.34m-8.34,0l8.34-8.34"/>
<path d="M303.33,432.33l8.34,8.34m-8.34,0l8.34-8.34"/>
<path d="M314.33,438.33l8.34,8.34m-8.34,0l8.34-8.34"/>
<path d="M324.33,435.33l8.34,8.34m-8.34,0l8.34-8.34"/>
<path d="M303.33,446.33l8.34,8.34m-8.34,0l8.34-8.34"/>
<path d="M283.33,443.33l8.34,8.34m-8.34,0l8.34-8.34"/>
<path d="M285.33,456.33l8.34,8.34m-8.34,0l8.34-8.34"/>
<path d="M318.33,456.33l8.34,8.34m-8.34,0l8.34-8.34"/>
<path d="M330.33,461.33l8.34,8.34m-8.34,0l8.34-8.34"/>
<path d="M349.33,431.33l8.34,8.34m-8.34,0l8.34-8.34"/>
<path d="M360.33,424.33l8.34,8.34m-8.34,0l8.34-8.34"/>
<path d="M372.33,424.33l8.34,8.34m-8.34,0l8.34-8.34"/>
<path d="M400.33,431.33l8.34,8.34m-8.34,0l8.34-8.34"/>
<path d="M374.33,441.33l8.34,8.34m-8.34,0l8.34-8.34"/>
<path d="M383.33,443.33l8.34,8.34m-8.34,0l8.34-8.34"/>
<path d="M353.33,457.33l8.34,8.34m-8.34,0l8.34-8.34"/>
<path d="M362.33,466.33l8.34,8.34m-8.34,0l8.34-8.34"/>
<path d="M376.33,482.33l8.34,8.34m-8.34,0l8.34-8.34"/>
<path d="M383.33,502.33l8.34,8.34m-8.34,0l8.34-8.34"/>
<path d="M345.33,500.33l8.34,8.34m-8.34,0l8.34-8.34"/>
<path d="M248.33,460.33l8.34,8.34m-8.34,0l8.34-8.34"/>
<path d="M248.33,465.33l8.34,8.34m-8.34,0l8.34-8.34"/>
<path d="M268.33,469.33l8.34,8.34m-8.34,0l8.34-8.34"/>
<path d="M274.33,473.33l8.34,8.34m-8.34,0l8.34-8.34"/>
<path d="M246.33,486.33l8.34,8.34m-8.34,0l8.34-8.34"/>
<path d="M252.33,491.33l8.34,8.34m-8.34,0l8.34-8.34"/>
<path d="M258.33,492.33l8.34,8.34m-8.34,0l8.34-8.34"/>
<path d="M262.33,489.33l8.34,8.34m-8.34,0l8.34-8.34"/>
<path d="M265.33,486.33l8.34,8.34m-8.34,0l8.34-8.34"/>
<path d="M268.33,485.33l8.34,8.34m-8.34,0l8.34-8.34"/>
<path d="M299.33,486.33l8.34,8.34m-8.34,0l8.34-8.34"/>
<path d="M297.33,496.33l8.34,8.34m-8.34,0l8.34-8.34"/>
<path d="M314.33,481.33l8.34,8.34m-8.34,0l8.34-8.34"/>
<path d="M320.33,484.33l8.34,8.34m-8.34,0l8.34-8.34"/>
<path d="M330.33,484.33l8.34,8.34m-8.34,0l8.34-8.34"/>
<path d="M310.33,503.33l8.34,8.34m-8.34,0l8.34-8.34"/>
<path d="M305.33,507.33l8.34,8.34m-8.34,0l8.34-8.34"/>
<path d="M326.33,498.33l8.34,8.34m-8.34,0l8.34-8.34"/>
<path d="M326.33,507.33l8.34,8.34m-8.34,0l8.34-8.34"/>
<path d="M428.33,422.33l8.34,8.34m-8.34,0l8.34-8.34"/>
<path d="M479.33,421.33l8.34,8.34m-8.34,0l8.34-8.34"/>
<path d="M489.33,421.33l8.34,8.34m-8.34,0l8.34-8.34"/>
<path d="M509.33,419.33l8.34,8.34m-8.34,0l8.34-8.34"/>
<path d="M512.33,427.33l8.34,8.34m-8.34,0l8.34-8.34"/>
<path d="M524.33,418.33l8.34,8.34m-8.34,0l8.34-8.34"/>
<path d="M554.33,421.33l8.34,8.34m-8.34,0l8.34-8.34"/>
<path d="M560.33,436.33l8.34,8.34m-8.34,0l8.34-8.34"/>
<path d="M524.33,442.33l8.34,8.34m-8.34,0l8.34-8.34"/>
<path d="M524.33,452.33l8.34,8.34m-8.34,0l8.34-8.34"/>
<path d="M545.33,448.33l8.34,8.34m-8.34,0l8.34-8.34"/>
<path d="M556.33,448.33l8.34,8.34m-8.34,0l8.34-8.34"/>
<path d="M562.33,463.33l8.34,8.34m-8.34,0l8.34-8.34"/>
<path d="M533.33,461.33l8.34,8.34m-8.34,0l8.34-8.34"/>
<path d="M533.33,469.33l8.34,8.34m-8.34,0l8.34-8.34"/>
<path d="M520.33,470.33l8.34,8.34m-8.34,0l8.34-8.34"/>
<path d="M493.33,451.33l8.34,8.34m-8.34,0l8.34-8.34"/>
<path d="M499.33,454.33l8.34,8.34m-8.34,0l8.34-8.34"/>
<path d="M505.33,464.33l8.34,8.34m-8.34,0l8.34-8.34"/>
<path d="M507.33,465.33l8.34,8.34m-8.34,0l8.34-8.34"/>
<path d="M483.33,462.33l8.34,8.34m-8.34,0l8.34-8.34"/>
<path d="M475.33,464.33l8.34,8.34m-8.34,0l8.34-8.34"/>
<path d="M436.33,444.33l8.34,8.34m-8.34,0l8.34-8.34"/>
<path d="M440.33,444.33l8.34,8.34m-8.34,0l8.34-8.34"/>
<path d="M446.33,440.33l8.34,8.34m-8.34,0l8.34-8.34"/>
<path d="M408.33,466.33l8.34,8.34m-8.34,0l8.34-8.34"/>
<path d="M411.33,469.33l8.34,8.34m-8.34,0l8.34-8.34"/>
<path d="M414.33,475.33l8.34,8.34m-8.34,0l8.34-8.34"/>
<path d="M410.33,481.33l8.34,8.34m-8.34,0l8.34-8.34"/>
<path d="M421.33,472.33l8.34,8.34m-8.34,0l8.34-8.34"/>
<path d="M412.33,494.33l8.34,8.34m-8.34,0l8.34-8.34"/>
<path d="M438.33,466.33l8.34,8.34m-8.34,0l8.34-8.34"/>
<path d="M452.33,467.33l8.34,8.34m-8.34,0l8.34-8.34"/>
<path d="M436.33,477.33l8.34,8.34m-8.34,0l8.34-8.34"/>
<path d="M451.33,483.33l8.34,8.34m-8.34,0l8.34-8.34"/>
<path d="M460.33,482.33l8.34,8.34m-8.34,0l8.34-8.34"/>
<path d="M464.33,489.33l8.34,8.34m-8.34,0l8.34-8.34"/>
<path d="M483.33,474.33l8.34,8.34m-8.34,0l8.34-8.34"/>
<path d="M483.33,479.33l8.34,8.34m-8.34,0l8.34-8.34"/>
<path d="M491.33,493.33l8.34,8.34m-8.34,0l8.34-8.34"/>
<path d="M507.33,495.33l8.34,8.34m-8.34,0l8.34-8.34"/>
<path d="M509.33,506.33l8.34,8.34m-8.34,0l8.34-8.34"/>
<path d="M475.33,502.33l8.34,8.34m-8.34,0l8.34-8.34"/>
<path d="M462.33,504.33l8.34,8.34m-8.34,0l8.34-8.34"/>
<path d="M464.33,508.33l8.34,8.34m-8.34,0l8.34-8.34"/>
<path d="M438.33,505.33l8.34,8.34m-8.34,0l8.34-8.34"/>
<path d="M423.33,492.33l8.34,8.34m-8.34,0l8.34-8.34"/>
<path d="M430.33,494.33l8.34,8.34m-8.34,0l8.34-8.34"/>
<path d="M547.33,482.33l8.34,8.34m-8.34,0l8.34-8.34"/>
<path d="M551.33,488.33l8.34,8.34m-8.34,0l8.34-8.34"/>
<path d="M535.33,418.33l8.34,8.34m-8.34,0l8.34-8.34"/>
<path d="M533.33,421.33l8.34,8.34m-8.34,0l8.34-8.34"/>
<path d="M598.33,423.33l8.34,8.34m-8.34,0l8.34-8.34"/>
<path d="M604.33,424.33l8.34,8.34m-8.34,0l8.34-8.34"/>
<path d="M698.33,419.33l8.34,8.34m-8.34,0l8.34-8.34"/>
<path d="M717.33,418.33l8.34,8.34m-8.34,0l8.34-8.34"/>
<path d="M681.33,425.33l8.34,8.34m-8.34,0l8.34-8.34"/>
<path d="M604.33,441.33l8.34,8.34m-8.34,0l8.34-8.34"/>
<path d="M621.33,441.33l8.34,8.34m-8.34,0l8.34-8.34"/>
<path d="M717.33,447.33l8.34,8.34m-8.34,0l8.34-8.34"/>
<path d="M721.33,460.33l8.34,8.34m-8.34,0l8.34-8.34"/>
<path d="M631.33,467.33l8.34,8.34m-8.34,0l8.34-8.34"/>
<path d="M614.33,473.33l8.34,8.34m-8.34,0l8.34-8.34"/>
<path d="M633.33,478.33l8.34,8.34m-8.34,0l8.34-8.34"/>
<path d="M623.33,487.33l8.34,8.34m-8.34,0l8.34-8.34"/>
<path d="M637.33,495.33l8.34,8.34m-8.34,0l8.34-8.34"/>
<path d="M633.33,509.33l8.34,8.34m-8.34,0l8.34-8.34"/>
<path d="M658.33,478.33l8.34,8.34m-8.34,0l8.34-8.34"/>
<path d="M572.33,482.33l8.34,8.34m-8.34,0l8.34-8.34"/>
<path d="M673.33,503.33l8.34,8.34m-8.34,0l8.34-8.34"/>
<path d="M698.33,495.33l8.34,8.34m-8.34,0l8.34-8.34"/>
<path d="M707.33,476.33l8.34,8.34m-8.34,0l8.34-8.34"/>
<path d="M721.33,482.33l8.34,8.34m-8.34,0l8.34-8.34"/>
<path d="M732.33,487.33l8.34,8.34m-8.34,0l8.34-8.34"/>
<path d="M721.33,502.33l8.34,8.34m-8.34,0l8.34-8.34"/>
<path d="M738.33,422.33l8.34,8.34m-8.34,0l8.34-8.34"/>
<path d="M755.33,420.33l8.34,8.34m-8.34,0l8.34-8.34"/>
<path d="M804.33,421.33l8.34,8.34m-8.34,0l8.34-8.34"/>
<path d="M803.33,424.33l8.34,8.34m-8.34,0l8.34-8.34"/>
<path d="M742.33,430.33l8.34,8.34m-8.34,0l8.34-8.34"/>
<path d="M744.33,431.33l8.34,8.34m-8.34,0l8.34-8.34"/>
<path d="M771.33,439.33l8.34,8.34m-8.34,0l8.34-8.34"/>
<path d="M790.33,431.33l8.34,8.34m-8.34,0l8.34-8.34"/>
<path d="M819.33,426.33l8.34,8.34m-8.34,0l8.34-8.34"/>
<path d="M823.33,432.33l8.34,8.34m-8.34,0l8.34-8.34"/>
<path d="M832.33,428.33l8.34,8.34m-8.34,0l8.34-8.34"/>
<path d="M830.33,440.33l8.34,8.34m-8.34,0l8.34-8.34"/>
<path d="M857.33,424.33l8.34,8.34m-8.34,0l8.34-8.34"/>
<path d="M887.33,428.33l8.34,8.34m-8.34,0l8.34-8.34"/>
<path d="M744.33,452.33l8.34,8.34m-8.34,0l8.34-8.34"/>
<path d="M784.33,455.33l8.34,8.34m-8.34,0l8.34-8.34"/>
<path d="M798.33,450.33l8.34,8.34m-8.34,0l8.34-8.34"/>
<path d="M786.33,467.33l8.34,8.34m-8.34,0l8.34-8.34"/>
<path d="M773.33,469.33l8.34,8.34m-8.34,0l8.34-8.34"/>
<path d="M767.33,476.33l8.34,8.34m-8.34,0l8.34-8.34"/>
<path d="M765.33,482.33l8.34,8.34m-8.34,0l8.34-8.34"/>
<path d="M769.33,485.33l8.34,8.34m-8.34,0l8.34-8.34"/>
<path d="M777.33,497.33l8.34,8.34m-8.34,0l8.34-8.34"/>
<path d="M786.33,505.33l8.34,8.34m-8.34,0l8.34-8.34"/>
<path d="M771.33,505.33l8.34,8.34m-8.34,0l8.34-8.34"/>
<path d="M759.33,507.33l8.34,8.34m-8.34,0l8.34-8.34"/>
<path d="M740.33,508.33l8.34,8.34m-8.34,0l8.34-8.34"/>
<path d="M830.33,483.33l8.34,8.34m-8.34,0l8.34-8.34"/>
<path d="M838.33,481.33l8.34,8.34m-8.34,0l8.34-8.34"/>
<path d="M853.33,444.33l8.34,8.34m-8.34,0l8.34-8.34"/>
<path d="M861.33,449.33l8.34,8.34m-8.34,0l8.34-8.34"/>
<path d="M868.33,446.33l8.34,8.34m-8.34,0l8.34-8.34"/>
<path d="M878.33,450.33l8.34,8.34m-8.34,0l8.34-8.34"/>
<path d="M861.33,460.33l8.34,8.34m-8.34,0l8.34-8.34"/>
<path d="M861.33,471.33l8.34,8.34m-8.34,0l8.34-8.34"/>
<path d="M883.33,457.33l8.34,8.34m-8.34,0l8.34-8.34"/>
<path d="M885.33,458.33l8.34,8.34m-8.34,0l8.34-8.34"/>
<path d="M887.33,461.33l8.34,8.34m-8.34,0l8.34-8.34"/>
<path d="M876.33,476.33l8.34,8.34m-8.34,0l8.34-8.34"/>
<path d="M880.33,478.33l8.34,8.34m-8.34,0l8.34-8.34"/>
<path d="M246.33,69.33l8.34,8.34m-8.34,0l8.34-8.34"/>
<path d="M248.33,70.33l8.34,8.34m-8.34,0l8.34-8.34"/>
<path d="M99.33,330.33l8.34,8.34m-8.34,0l8.34-8.34"/>
<path d="M99.33,332.33l8.34,8.34m-8.34,0l8.34-8.34"/>
<path d="M105.33,334.33l8.34,8.34m-8.34,0l8.34-8.34"/>
<path d="M846.33,142.33l8.34,8.34m-8.34,0l8.34-8.34"/>
<path d="M846.33,143.33l8.34,8.34m-8.34,0l8.34-8.34"/>
<path d="M846.33,145.33l8.34,8.34m-8.34,0l8.34-8.34"/>

</g>
<rect x="57.5" y="32.5" width="874" height="505" fill="none" stroke="#000" stroke-width="1.11"/>
<g stroke="#000" stroke-width="1.11">
<line x1="52.5" x2="57.5" y1="519.50" y2="519.50"/><line x1="52.5" x2="57.5" y1="442.50" y2="442.50"/><line x1="52.5" x2="57.5" y1="364.50" y2="364.50"/><line x1="52.5" x2="57.5" y1="287.50" y2="287.50"/><line x1="52.5" x2="57.5" y1="209.50" y2="209.50"/><line x1="52.5" x2="57.5" y1="132.50" y2="132.50"/><line x1="52.5" x2="57.5" y1="54.50" y2="54.50"/><line x1="111.50" x2="111.50" y1="537.5" y2="542.5"/><line x1="269.50" x2="269.50" y1="537.5" y2="542.5"/><line x1="428.50" x2="428.50" y1="537.5" y2="542.5"/><line x1="587.50" x2="587.50" y1="537.5" y2="542.5"/><line x1="745.50" x2="745.50" y1="537.5" y2="542.5"/><line x1="904.50" x2="904.50" y1="537.5" y2="542.5"/>
</g>
<g font-size="13.89px">
<text x="47.6" y="524.80" text-anchor="end">0</text><text x="47.6" y="447.30" text-anchor="end">10</text><text x="47.6" y="369.80" text-anchor="end">20</text><text x="47.6" y="292.30" text-anchor="end">30</text><text x="47.6" y="214.80" text-anchor="end">40</text><text x="47.6" y="137.30" text-anchor="end">50</text><text x="47.6" y="59.80" text-anchor="end">60</text><text x="111.40" y="556.8" text-anchor="middle">2026-03-16 08:38:00</text><text x="270.00" y="556.8" text-anchor="middle">2026-03-16 08:39:00</text><text x="428.60" y="556.8" text-anchor="middle">2026-03-16 08:40:00</text><text x="587.20" y="556.8" text-anchor="middle">2026-03-16 08:41:00</text><text x="745.80" y="556.8" text-anchor="middle">2026-03-16 08:42:00</text><text x="904.40" y="556.8" text-anchor="middle">2026-03-16 08:43:00</text><text x="493.7" y="576.7" text-anchor="middle">Time (UTC)</text><text transform="translate(20.1,284.75) rotate(-90)" text-anchor="middle">Bistatic Delay (km)</text>
</g>
<text x="493.5" y="23.9" text-anchor="middle" font-size="16.67px">Detections in Delay</text>
</svg>
</body></html>
